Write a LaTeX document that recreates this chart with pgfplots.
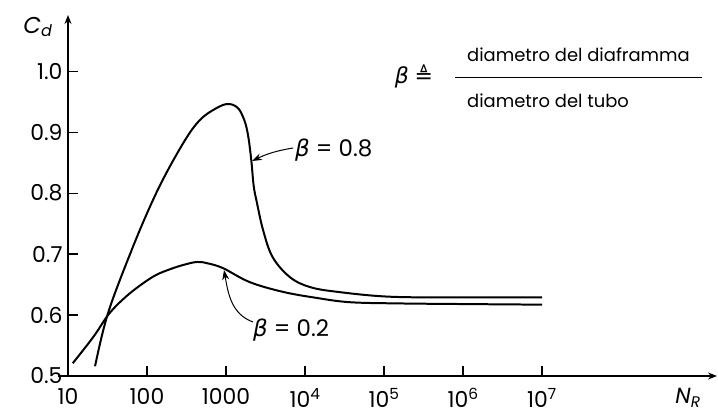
\documentclass[border=0pt]{standalone}
\usepackage{pgfplots}
\pgfplotsset{compat=1.18}
\usepackage{fontspec}
\setmainfont{Poppins}
\newfontfamily\djf{DejaVu Sans}
\usetikzlibrary{arrows.meta}
\begin{document}
\begin{tikzpicture}
\begin{axis}[
  scale only axis, width=649bp, height=361bp,
  xmode=log, xmin=10, xmax=1.64e9, ymin=0.5, ymax=1.092,
  axis lines=left,
  axis line style={line width=1.3pt, -{Stealth[length=9bp,width=7bp]}},
  x axis line style={shorten <=-10bp},
  tick align=inside,
  major tick length=10bp,
  minor tick num=0,
  xminorticks=false,
  tick style={black, line width=1.1pt},
  xtick={10,100,1000,10000,100000,1000000,10000000},
  xticklabels={10,100,1000,10\textsuperscript{4},10\textsuperscript{5},10\textsuperscript{6},10\textsuperscript{7}},
  ytick={0.5,0.6,0.7,0.8,0.9,1.0},
  yticklabels={0.5,0.6,0.7,0.8,0.9,1.0},
  tick label style={font=\fontsize{22}{24}\selectfont},
  x tick label style={yshift=-9bp},
  y tick label style={xshift=-2bp},
  clip=false,
]
\coordinate (O) at (rel axis cs:0,0);
% beta = 0.8
\addplot[black, line width=2pt, smooth, tension=0.6] coordinates {
(22,0.516) (32.1,0.603) (64.6,0.708) (115.6,0.785) (184.5,0.838) (321,0.892) (469,0.920) (684,0.936)
(1023,0.946) (1400,0.940) (1700,0.920) (1900,0.895) (2089,0.854) (2239,0.812) (2455,0.785)
(2951,0.739) (3890,0.695) (6457,0.662) (11480,0.646) (25700,0.638)
(120000,0.630) (1e6,0.629) (1e7,0.629)};
% beta = 0.2
\addplot[black, line width=2pt, smooth, tension=0.6] coordinates {
(11.5,0.521) (20.9,0.564) (33.1,0.602) (54,0.630) (89.1,0.652) (132,0.666) (195,0.675) (286,0.682) (427,0.687)
(575,0.685) (912,0.677) (1995,0.654) (5248,0.638) (14125,0.628) (37150,0.621)
(158000,0.619) (1e6,0.618) (1e7,0.617)};
\end{axis}
\begin{scope}[shift={(O)}]
\node at (-30bp,349bp) {\fontsize{23}{25}\selectfont\itshape C\textsubscript{d}};
\node at (620bp,-22bp) {\fontsize{22}{24}\selectfont\itshape N\textsubscript{R}};
\node at (346bp,300bp) {\fontsize{22}{24}\selectfont{\djf\itshape β} {\djf ≜}};
\draw[line width=1pt] (387bp,298bp) -- (634bp,298bp);
\node[anchor=base west, inner sep=0pt] at (399bp,314bp) {\fontsize{18}{20}\selectfont diametro del diaframma};
\node[anchor=base west, inner sep=0pt] at (399bp,268bp) {\fontsize{18}{20}\selectfont diametro del tubo};
\node[anchor=west, inner sep=0pt] at (227bp,226bp) {\fontsize{23}{25}\selectfont{\djf\itshape β} = 0.8};
\node[anchor=west, inner sep=0pt] at (185bp,46bp) {\fontsize{23}{25}\selectfont{\djf\itshape β} = 0.2};
\draw[line width=1pt, -{Stealth[length=10bp,width=7bp]}] (225bp,228bp) to[bend right=8] (184bp,215bp);
\draw[line width=1pt, -{Stealth[length=10bp,width=7bp]}] (185bp,54bp) to[out=160,in=-80] (156bp,106bp);
\pgfresetboundingbox
\useasboundingbox (-68bp,-39bp) rectangle (650bp,376bp);
\end{scope}
\end{tikzpicture}
\end{document}
